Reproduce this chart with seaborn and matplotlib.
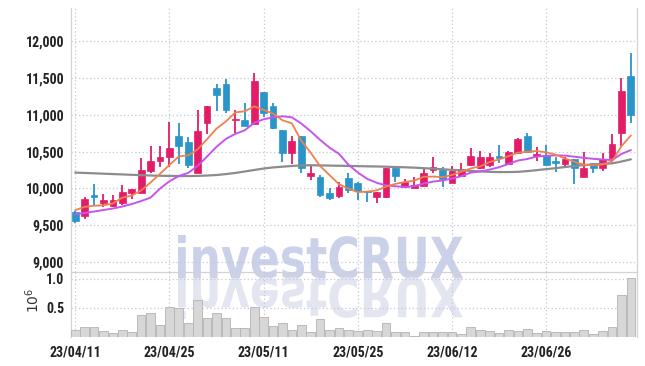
import numpy as np
import pandas as pd
import matplotlib
matplotlib.use("Agg")
import matplotlib.pyplot as plt
import seaborn as sns
from matplotlib.textpath import TextPath
from matplotlib.patches import PathPatch
from matplotlib.font_manager import FontProperties, findfont
from matplotlib.transforms import Affine2D

# ---------------- data ----------------
dates = ["23/04/11", "23/04/12", "23/04/13", "23/04/14", "23/04/17", "23/04/18", "23/04/19", "23/04/20",
         "23/04/21", "23/04/24", "23/04/25", "23/04/26", "23/04/27", "23/04/28", "23/05/02", "23/05/03",
         "23/05/04", "23/05/08", "23/05/09", "23/05/10", "23/05/11", "23/05/12", "23/05/15", "23/05/16",
         "23/05/17", "23/05/18", "23/05/19", "23/05/22", "23/05/23", "23/05/24", "23/05/25", "23/05/26",
         "23/05/30", "23/05/31", "23/06/01", "23/06/02", "23/06/05", "23/06/07", "23/06/08", "23/06/09",
         "23/06/12", "23/06/13", "23/06/14", "23/06/15", "23/06/16", "23/06/19", "23/06/20", "23/06/21",
         "23/06/22", "23/06/23", "23/06/26", "23/06/27", "23/06/28", "23/06/29", "23/06/30", "23/07/03",
         "23/07/04", "23/07/05", "23/07/06", "23/07/07"]

open_ = [9680, 9625, 9910, 9800, 9760, 9800, 9940, 9940, 10235, 10370,
         10430, 10710, 10630, 10210, 10890, 11360, 11415, 10925, 10935, 10875,
         11310, 11120, 10790, 10480, 10710, 10168, 10155, 9937, 9897, 10140,
         10075, 9965, 9883, 9883, 10275, 10020, 10005, 10030, 10250, 10250,
         10075, 10170, 10320, 10275, 10320, 10440, 10330, 10480, 10710, 10440,
         10455, 10370, 10330, 10400, 10155, 10345, 10275, 10410, 10750, 11525]
high = [9690, 9883, 10060, 9924, 9910, 10045, 9995, 10410, 10575, 10575,
        10900, 10890, 10700, 11065, 11120, 11415, 11485, 11065, 11160, 11565,
        11310, 11160, 10790, 10710, 10710, 10320, 10180, 10005, 10090, 10210,
        10090, 9965, 9950, 10275, 10275, 10130, 10155, 10275, 10425, 10290,
        10300, 10345, 10550, 10510, 10480, 10590, 10510, 10685, 10750, 10560,
        10590, 10425, 10425, 10400, 10495, 10345, 10480, 10735, 11500, 11835]
low = [9530, 9585, 9775, 9750, 9745, 9775, 9860, 9935, 10210, 10290,
       10290, 10330, 10275, 10210, 10740, 11050, 11025, 10750, 10850, 10875,
       10970, 10805, 10360, 10330, 10210, 10115, 9883, 9845, 9870, 9937,
       9845, 9815, 9800, 9870, 10090, 10020, 10005, 10030, 10210, 10020,
       10075, 10155, 10305, 10265, 10290, 10345, 10320, 10480, 10480, 10370,
       10320, 10220, 10290, 10060, 10155, 10210, 10235, 10410, 10575, 10890]
close = [9557, 9856, 9890, 9840, 9840, 9950, 9990, 10250, 10370, 10430,
         10550, 10575, 10320, 10780, 11120, 11265, 11065, 10935, 10850, 11455,
         11025, 10820, 10480, 10640, 10275, 10210, 9910, 9870, 10020, 9980,
         9965, 9950, 9950, 10275, 10170, 10090, 10045, 10210, 10290, 10130,
         10235, 10265, 10440, 10425, 10425, 10410, 10495, 10670, 10495, 10470,
         10320, 10345, 10400, 10275, 10275, 10275, 10400, 10600, 11320, 11000]
volume_m = [0.125, 0.165, 0.176, 0.097, 0.063, 0.125, 0.08, 0.386, 0.42, 0.21,
            0.517, 0.5, 0.244, 0.636, 0.33, 0.415, 0.33, 0.16, 0.16, 0.517,
            0.347, 0.193, 0.244, 0.114, 0.21, 0.08, 0.313, 0.114, 0.16, 0.125,
            0.102, 0.114, 0.097, 0.233, 0.08, 0.08, 0.023, 0.08, 0.08, 0.08,
            0.08, 0.057, 0.176, 0.125, 0.097, 0.063, 0.125, 0.097, 0.142, 0.063,
            0.097, 0.08, 0.08, 0.08, 0.125, 0.057, 0.097, 0.18, 0.727, 1.01]

# moving-average values before enough in-window data
ma5_head = [9705, 9750, 9765, 9770]
ma10_head = [9648, 9666, 9686, 9707, 9727, 9754, 9788, 9829, 9875]
ma60 = [10215, 10210, 10205, 10200, 10195, 10190, 10185, 10180, 10175, 10172,
        10170, 10168, 10168, 10170, 10175, 10182, 10195, 10210, 10230, 10250,
        10270, 10285, 10295, 10305, 10312, 10315, 10312, 10310, 10308, 10305,
        10303, 10300, 10298, 10295, 10290, 10287, 10282, 10275, 10268, 10260,
        10252, 10245, 10238, 10230, 10225, 10222, 10222, 10225, 10235, 10248,
        10262, 10275, 10290, 10305, 10318, 10325, 10332, 10340, 10365, 10395]

price_ticks = [9000, 9500, 10000, 10500, 11000, 11500, 12000]
vol_ticks = [0.5, 1.0]
date_tick_idx = [0, 10, 20, 30, 40, 50]

# ---------------- derived ----------------
n = len(close)
idx = np.arange(n)
cs = pd.Series(close, dtype=float)
ma5 = cs.rolling(5).mean().to_numpy()
ma5[:len(ma5_head)] = ma5_head
ma10 = cs.rolling(10).mean().to_numpy()
ma10[:len(ma10_head)] = ma10_head

UP = "#e31c68"
DOWN = "#2a95c9"
C_MA5 = "#f0804e"
C_MA10 = "#c555ec"
C_MA60 = "#8c8c8c"
GRID = "#c3c8da"
SPINE = "#d2d2d2"

sns.set_theme(style="white")
plt.rcParams['font.family'] = ['DejaVu Sans']

# pick a narrow font if one is installed
tick_family = 'Liberation Sans'
for cand in ['Roboto Condensed', 'Liberation Sans Narrow', 'Open Sans Condensed']:
    try:
        findfont(FontProperties(family=cand), fallback_to_default=False)
        tick_family = cand
        break
    except Exception:
        pass
tick_size = 10 if tick_family != 'Liberation Sans' else 9.5
tick_font = dict(family=[tick_family, 'DejaVu Sans'], weight='bold', size=tick_size)

W, H = 645, 366
fig = plt.figure(figsize=(W / 100, H / 100), dpi=100)
fig.patch.set_facecolor("white")
L, R = 71, 637
ax = fig.add_axes([L / W, 1 - 272 / H, (R - L) / W, (272 - 8) / H])
axv = fig.add_axes([L / W, 1 - 337 / H, (R - L) / W, (337 - 272) / H], sharex=ax)
for a in (ax, axv):
    a.set_facecolor("none")

# ---------------- watermark ----------------
fp = FontProperties(family='DejaVu Sans', weight='bold')
tp = TextPath((0, 0), "investCRUX", size=100, prop=fp)
bb = tp.get_extents()
sx = (463 - 178) / bb.width
sy = 43 / bb.y1
base = H - 278
tr_main = Affine2D().translate(-bb.x0, 0).scale(sx, sy).translate(178, base)
tr_ref = Affine2D().translate(-bb.x0, 0).scale(sx, -sy * 0.95).translate(178, base)
p1 = PathPatch(tp, facecolor="#cbd1e8", edgecolor="none", zorder=-2)
p2 = PathPatch(tp, facecolor="#e3e5f0", edgecolor="none", zorder=-2)
fig.add_artist(p1)
fig.add_artist(p2)
p1.set_transform(tr_main)
p2.set_transform(tr_ref)

# ---------------- candles ----------------
o = np.array(open_, float); c = np.array(close, float)
h = np.array(high, float); l = np.array(low, float)
colors = [UP if cc >= oo else DOWN for oo, cc in zip(o, c)]
ax.vlines(idx, l, h, colors=colors, linewidth=1.3, zorder=2)
body_bot = np.minimum(o, c)
body_h = np.maximum(np.abs(c - o), 12)
ax.bar(idx, body_h, bottom=body_bot, width=0.72, color=colors, edgecolor=colors,
       linewidth=0.5, zorder=3)

# moving averages
sns.lineplot(x=idx, y=ma60, ax=ax, color=C_MA60, linewidth=1.6, zorder=4)
sns.lineplot(x=idx, y=ma10, ax=ax, color=C_MA10, linewidth=1.4, zorder=5)
sns.lineplot(x=idx, y=ma5, ax=ax, color=C_MA5, linewidth=1.3, zorder=6)

# ---------------- volume ----------------
sns.barplot(x=idx, y=volume_m, ax=axv, native_scale=True, color="#d7d7d7",
            saturation=1, edgecolor="#b3b3b3", linewidth=0.6, width=0.92,
            errorbar=None, zorder=3)

# ---------------- axes styling ----------------
ax.set_xlim(-0.45, n - 0.35)
ax.set_ylim(8865, 12450)
axv.set_ylim(0, 1.12)

ax.set_yticks(price_ticks)
ax.set_yticklabels([f"{v:,}" for v in price_ticks], **tick_font)
axv.set_yticks(vol_ticks)
axv.set_yticklabels([f"{v:.1f}" for v in vol_ticks], **tick_font)
axv.set_xticks(date_tick_idx)
axv.set_xticklabels([dates[i] for i in date_tick_idx], **tick_font)
ax.tick_params(axis='x', labelbottom=False)

for a in (ax, axv):
    a.tick_params(length=0, colors="#222222", pad=5)
    a.grid(True, color=GRID, linestyle=(0, (1, 2)), linewidth=0.9)
    a.set_axisbelow(True)
    a.set_xlabel("")
    a.set_ylabel("")
    for s in a.spines.values():
        s.set_color(SPINE)
        s.set_linewidth(0.9)
    a.spines['top'].set_visible(False)
axv.spines['bottom'].set_visible(False)
axv.tick_params(axis='x', pad=6)

fig.text(33 / W, 1 - 300 / H, r"$10^6$", rotation=90, ha='center', va='center',
         fontsize=10, color="#333333")

fig.savefig("out.png", dpi=100, facecolor="white")
